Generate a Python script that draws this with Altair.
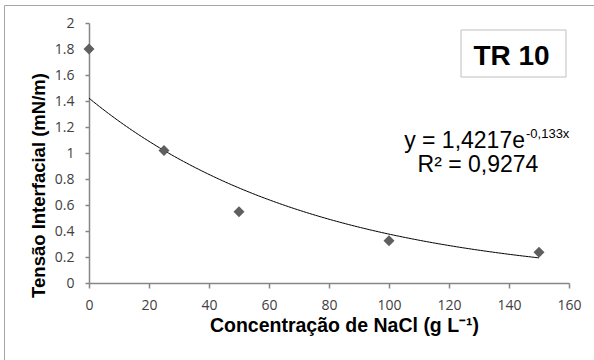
import altair as alt
import pandas as pd

# Measured interfacial tension vs. NaCl concentration
conc = [0, 25, 50, 100, 150]
tension = [1.80, 1.02, 0.548, 0.325, 0.236]

# Exponential trendline y = a * exp(b * x)
fit_a = 1.4217
fit_b = -0.0133
fit_x_max = 150

x_ticks = [0, 20, 40, 60, 80, 100, 120, 140, 160]
y_ticks = [0, 0.2, 0.4, 0.6, 0.8, 1.0, 1.2, 1.4, 1.6, 1.8, 2.0]

x_title = "Concentração de NaCl (g L⁻¹)"
y_title = "Tensão Interfacial (mN/m)"
eq_main = "y = 1,4217e"
eq_exp = "-0,133x"
r2_text = "R² = 0,9274"
tag_text = "TR 10"

W, H = 480, 260
AXIS_GRAY = "#868686"
LABEL_FONT = "Open Sans"
TITLE_FONT = "Liberation Sans"

points_df = pd.DataFrame({"conc": conc, "tension": tension})
one = pd.DataFrame({"k": [0]})

x_scale = alt.Scale(domain=[0, 160], nice=False, zero=False)
y_scale = alt.Scale(domain=[0, 2], nice=False)

x_axis = alt.Axis(
    values=x_ticks, title=x_title, grid=False,
    domainColor=AXIS_GRAY, domainWidth=1.5,
    tickColor=AXIS_GRAY, tickWidth=1.5, tickSize=5,
    labelFont=LABEL_FONT, labelFontSize=14, labelColor="#404040", labelPadding=10,
    labelOverlap=False, labelFlush=False,
    titleFont=TITLE_FONT, titleFontSize=19.5, titleFontWeight="bold", titleColor="black",
    titleX=255, titleY=48.7, titleBaseline="alphabetic", titleAlign="center",
)
y_axis = alt.Axis(
    values=y_ticks, format=".1~f", title=y_title, grid=False,
    domainColor=AXIS_GRAY, domainWidth=1.5,
    tickColor=AXIS_GRAY, tickWidth=1.5, tickSize=4,
    labelFont=LABEL_FONT, labelFontSize=14, labelColor="#404040", labelPadding=11,
    labelOverlap=False, labelFlush=False,
    titleFont=TITLE_FONT, titleFontSize=18.5, titleFontWeight="bold", titleColor="black",
    titleX=-45, titleY=162, titleBaseline="alphabetic", titleAlign="center", titleAngle=270,
)

frame = alt.Chart(one).mark_rect(fillOpacity=0, stroke="#a6a6a6", strokeWidth=1).encode(
    x=alt.value(-84.5), x2=alt.value(530), y=alt.value(-17.5), y2=alt.value(360)
)

trend = alt.Chart(alt.sequence(0, fit_x_max + 0.01, 0.5, as_="x")).transform_calculate(
    y=f"{fit_a} * exp({fit_b} * datum.x)"
).mark_line(color="black", strokeWidth=1).encode(
    x=alt.X("x:Q", scale=x_scale, axis=x_axis),
    y=alt.Y("y:Q", scale=y_scale, axis=y_axis),
)

points = alt.Chart(points_df).mark_point(
    shape="diamond", filled=True, size=120, color="#5f5f5f", opacity=1
).encode(
    x=alt.X("conc:Q", scale=x_scale, axis=x_axis),
    y=alt.Y("tension:Q", scale=y_scale, axis=y_axis),
)

eq1 = alt.Chart(one).mark_text(
    text=eq_main, font=TITLE_FONT, fontSize=23, align="right", baseline="alphabetic", color="black"
).encode(x=alt.value(436), y=alt.value(125))
eq2 = alt.Chart(one).mark_text(
    text=eq_exp, font=TITLE_FONT, fontSize=13, align="left", baseline="alphabetic", color="black"
).encode(x=alt.value(437), y=alt.value(115))
r2 = alt.Chart(one).mark_text(
    text=r2_text, font=TITLE_FONT, fontSize=23, align="center", baseline="alphabetic", color="black"
).encode(x=alt.value(389), y=alt.value(149))

tag_box = alt.Chart(one).mark_rect(fill="white", stroke="#bfbfbf", strokeWidth=1).encode(
    x=alt.value(372), x2=alt.value(477), y=alt.value(7), y2=alt.value(54)
)
tag = alt.Chart(one).mark_text(
    text=tag_text, font=TITLE_FONT, fontSize=28, fontWeight="bold", align="center",
    baseline="alphabetic", color="black"
).encode(x=alt.value(422.5), y=alt.value(42))

chart = alt.layer(frame, trend, points, eq1, eq2, r2, tag_box, tag).properties(
    width=W, height=H,
    autosize=alt.AutoSizeParams(type="none"),
    padding={"left": 89, "top": 23, "right": 25, "bottom": 77},
    background="white",
).configure_view(strokeWidth=0)

chart.save("out.html", embed_options={"renderer": "svg", "actions": False})
